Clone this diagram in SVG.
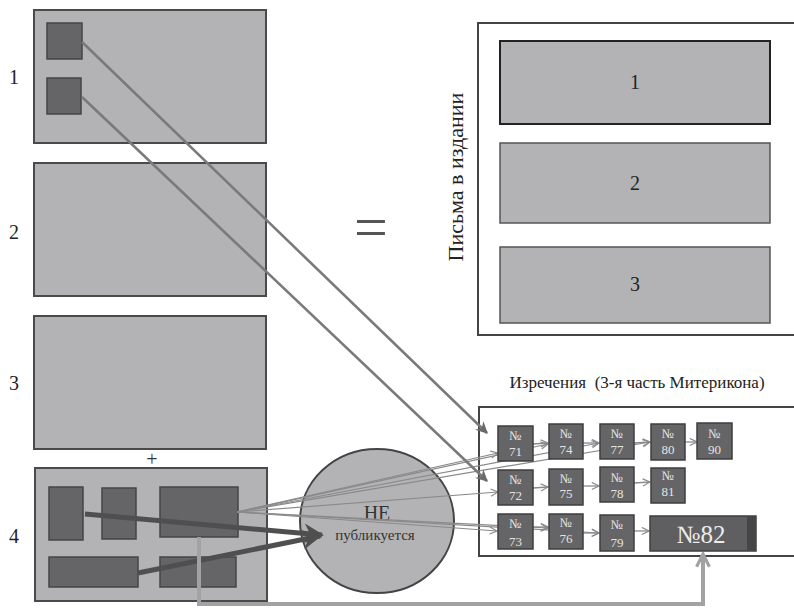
<svg xmlns="http://www.w3.org/2000/svg" width="794" height="609" viewBox="0 0 794 609">
<defs>
<style>
text{font-family:"Liberation Serif","Times New Roman","DejaVu Serif","Noto Serif",serif}
.big{fill:#b3b3b6;stroke:#4a4a4a;stroke-width:2}
.sq{fill:#656567;stroke:#454545;stroke-width:1.5}
.nb{fill:#656567;stroke:#3e3e3e;stroke-width:1.5}
.lbl{font-size:20px;fill:#222}
.nt{font-size:13px;fill:#e4e4e4;text-anchor:middle}
.fan{stroke:#8a8a8a;stroke-width:1.2;fill:none;marker-end:url(#chev)}
.row{stroke:#8a8a8a;stroke-width:1.3;fill:none;marker-end:url(#chev)}
.diag{stroke:#7a7a7a;stroke-width:2.6;fill:none;marker-end:url(#tri)}
.thick{stroke:#4f4f4f;stroke-width:5;fill:none;marker-end:url(#tri2)}
</style>
<marker id="chev" viewBox="0 0 10 10" refX="9" refY="5" markerWidth="9" markerHeight="9" markerUnits="userSpaceOnUse" orient="auto">
<path d="M1,1 L9,5 L1,9" fill="none" stroke="#8a8a8a" stroke-width="1.3"/>
</marker>
<marker id="tri" viewBox="0 0 10 10" refX="9" refY="5" markerWidth="14" markerHeight="12" markerUnits="userSpaceOnUse" orient="auto">
<path d="M0,0 L10,5 L0,10 L3,5 Z" fill="#6a6a6a"/>
</marker>
<marker id="tri2" viewBox="0 0 10 10" refX="9" refY="5" markerWidth="22" markerHeight="20" markerUnits="userSpaceOnUse" orient="auto">
<path d="M0,0 L10,5 L0,10 L3,5 Z" fill="#4f4f4f"/>
</marker>
<marker id="up" viewBox="0 0 10 10" refX="9" refY="5" markerWidth="16" markerHeight="18" markerUnits="userSpaceOnUse" orient="auto">
<path d="M1,1 L9,5 L1,9" fill="none" stroke="#a2a2a2" stroke-width="2"/>
</marker>
</defs>
<rect width="794" height="609" fill="#ffffff"/>

<g id="box1">
<rect class="big" x="34" y="10" width="232" height="133"/>
<rect class="sq" x="47" y="23" width="35" height="36"/>
<rect class="sq" x="47" y="78" width="34" height="36"/>
<text class="lbl" x="9" y="84">1</text>
</g>
<g id="box2">
<rect class="big" x="34" y="163" width="232" height="133"/>
<text class="lbl" x="9" y="239">2</text>
</g>
<g id="box3">
<rect class="big" x="34" y="316" width="232" height="133"/>
<text class="lbl" x="9" y="390">3</text>
</g>
<text id="plus" x="152" y="466" font-size="20" fill="#333" text-anchor="middle">+</text>
<g id="box4">
<rect class="big" x="35" y="468" width="232" height="133"/>
<rect class="sq" x="49" y="487" width="34" height="53"/>
<rect class="sq" x="102" y="488" width="34" height="51"/>
<rect class="sq" x="160" y="487" width="78" height="50"/>
<rect class="sq" x="49" y="557" width="89" height="30"/>
<rect class="sq" x="160" y="557" width="76" height="30"/>
<text class="lbl" x="9" y="543">4</text>
</g>

<text id="equals" x="371" y="247" font-size="60" fill="#555" text-anchor="middle">=</text>

<g id="letters">
<rect x="478" y="23" width="330" height="312" fill="#fff" stroke="#444" stroke-width="2"/>
<text x="463" y="177" transform="rotate(-90 463 177)" font-size="22" fill="#222" text-anchor="middle">Письма в издании</text>
<rect x="500" y="41" width="270" height="83" fill="#b3b3b6" stroke="#222" stroke-width="2"/>
<text class="lbl" x="635" y="89" text-anchor="middle" font-size="17">1</text>
<rect x="500" y="143" width="270" height="80" fill="#b3b3b6" stroke="#555" stroke-width="1.5"/>
<text class="lbl" x="635" y="190" text-anchor="middle" font-size="17">2</text>
<rect x="500" y="247" width="270" height="76" fill="#b3b3b6" stroke="#555" stroke-width="1.5"/>
<text class="lbl" x="635" y="291" text-anchor="middle" font-size="17">3</text>
</g>

<g id="sayings">
<text x="637" y="388" font-size="17" fill="#222" text-anchor="middle" xml:space="preserve">Изречения  (3-я часть Митерикона)</text>
<rect x="479" y="407" width="330" height="149" fill="#fff" stroke="#444" stroke-width="2"/>
</g>

<g id="circle">
<ellipse cx="377" cy="521" rx="77" ry="72" fill="#b3b3b6" stroke="#444" stroke-width="2"/>
<text x="377" y="520" font-size="20" fill="#333" text-anchor="middle">НЕ</text>
<text x="375" y="540" font-size="15" fill="#333" text-anchor="middle">публикуется</text>
</g>

<g id="connectors">
<line class="fan" x1="237" y1="512" x2="498" y2="453"/>
<line class="fan" x1="237" y1="512" x2="548" y2="444"/>
<line class="fan" x1="237" y1="512" x2="599" y2="443"/>
<line class="fan" x1="237" y1="512" x2="650" y2="442"/>
<line class="fan" x1="237" y1="512" x2="498" y2="492"/>
<line class="fan" x1="237" y1="512" x2="497" y2="531"/>
<line class="fan" x1="237" y1="512" x2="548" y2="528"/>
<line class="fan" x1="237" y1="512" x2="599" y2="533"/>
<line class="row" x1="533" y1="444" x2="548" y2="443"/>
<line class="row" x1="583" y1="443" x2="599" y2="443"/>
<line class="row" x1="634" y1="443" x2="650" y2="442"/>
<line class="row" x1="685" y1="442" x2="697" y2="442"/>
<line class="row" x1="533" y1="488" x2="548" y2="487"/>
<line class="row" x1="583" y1="486" x2="599" y2="486"/>
<line class="row" x1="634" y1="483" x2="650" y2="482"/>
<line class="row" x1="533" y1="527" x2="548" y2="527"/>
<line class="row" x1="583" y1="533" x2="599" y2="533"/>
<line class="row" x1="634" y1="531" x2="649" y2="531"/>
<line class="diag" x1="82" y1="42" x2="487" y2="433"/>
<line class="diag" x1="82" y1="97" x2="487" y2="481"/>
<line class="thick" x1="85" y1="514" x2="322" y2="535"/>
<line class="thick" x1="138" y1="573" x2="320" y2="536"/>
<polyline points="199,537 199,604 703,604 703,554" fill="none" stroke="#a2a2a2" stroke-width="4" marker-end="url(#up)"/>
</g>

<g id="n71"><rect class="nb" x="498" y="426" width="35" height="35"/><text class="nt" x="515.5" y="440">№</text><text class="nt" x="515.5" y="456">71</text></g>
<g id="n74"><rect class="nb" x="549" y="424" width="34" height="35"/><text class="nt" x="566" y="438">№</text><text class="nt" x="566" y="454">74</text></g>
<g id="n77"><rect class="nb" x="600" y="424" width="34" height="35"/><text class="nt" x="617" y="438">№</text><text class="nt" x="617" y="454">77</text></g>
<g id="n80"><rect class="nb" x="651" y="424" width="34" height="36"/><text class="nt" x="668" y="438">№</text><text class="nt" x="668" y="454">80</text></g>
<g id="n90"><rect class="nb" x="697" y="423" width="35" height="36"/><text class="nt" x="714.5" y="438">№</text><text class="nt" x="714.5" y="454">90</text></g>
<g id="n72"><rect class="nb" x="498" y="470" width="35" height="35"/><text class="nt" x="515.5" y="484">№</text><text class="nt" x="515.5" y="500">72</text></g>
<g id="n75"><rect class="nb" x="549" y="469" width="34" height="36"/><text class="nt" x="566" y="483">№</text><text class="nt" x="566" y="498">75</text></g>
<g id="n78"><rect class="nb" x="600" y="467" width="34" height="35"/><text class="nt" x="617" y="482">№</text><text class="nt" x="617" y="498">78</text></g>
<g id="n81"><rect class="nb" x="651" y="468" width="34" height="35"/><text class="nt" x="668" y="480">№</text><text class="nt" x="668" y="496">81</text></g>
<g id="n73"><rect class="nb" x="498" y="514" width="35" height="35"/><text class="nt" x="515.5" y="528">№</text><text class="nt" x="515.5" y="546">73</text></g>
<g id="n76"><rect class="nb" x="549" y="514" width="34" height="35"/><text class="nt" x="566" y="527">№</text><text class="nt" x="566" y="543">76</text></g>
<g id="n79"><rect class="nb" x="600" y="515" width="34" height="36"/><text class="nt" x="617" y="529">№</text><text class="nt" x="617" y="547">79</text></g>
<g id="n82">
<rect x="650" y="516" width="106" height="35" fill="#5f5f61" stroke="#3e3e3e" stroke-width="1.5"/>
<rect x="747" y="517" width="8" height="33" fill="#454547"/>
<text x="701" y="543" font-size="25" fill="#ececec" text-anchor="middle">№82</text>
</g>
</svg>
